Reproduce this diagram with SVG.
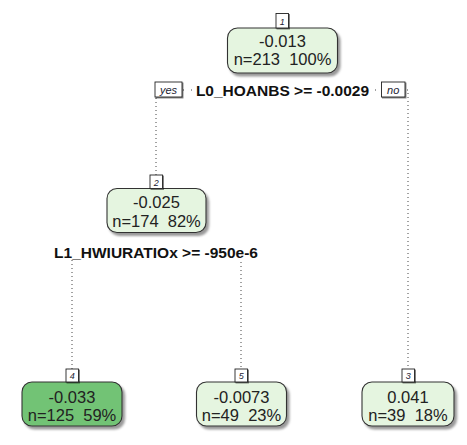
<svg xmlns="http://www.w3.org/2000/svg" width="467" height="445" viewBox="0 0 467 445">
<defs>
<filter id="sh" x="-20%" y="-20%" width="140%" height="150%">
<feDropShadow dx="2.5" dy="3" stdDeviation="1" flood-color="#000" flood-opacity="0.4"/>
</filter>
<filter id="shs" x="-30%" y="-30%" width="160%" height="160%">
<feDropShadow dx="1" dy="1" stdDeviation="0.4" flood-color="#000" flood-opacity="0.5"/>
</filter>
<style>
.box{stroke:#333;stroke-width:1.1;filter:url(#sh)}
.lt{fill:#e5f5e0}
.dk{fill:#72c375}
.val{font-family:"Liberation Sans",Arial,sans-serif;font-size:16.5px;fill:#222;text-anchor:middle;white-space:pre}
.num{fill:#fff;stroke:#222;stroke-width:0.9;filter:url(#shs)}
.numt{font-family:"Liberation Sans",Arial,sans-serif;font-size:9px;font-style:italic;fill:#223;text-anchor:middle}
.split{font-family:"Liberation Sans",Arial,sans-serif;font-size:15.5px;font-weight:bold;fill:#111;text-anchor:middle}
.yn{font-family:"Liberation Sans",Arial,sans-serif;font-size:11px;font-style:italic;fill:#223;text-anchor:middle}
.dot{fill:none;stroke:#444;stroke-width:1;stroke-dasharray:1 3}
</style>
</defs>
<rect width="467" height="445" fill="#fff"/>
<g id="connectors">
<path class="dot" d="M156,175 V90 H408 V369"/>
<path class="dot" d="M72,369 V252 H241 V369"/>
</g>
<g id="split1">
<rect x="186" y="82" width="3" height="16" fill="#fff"/>
<rect x="192" y="82" width="181" height="16" fill="#fff"/>
<rect x="377" y="82" width="5" height="16" fill="#fff"/>
<text class="split" x="282.5" y="95.5">L0_HOANBS &gt;= -0.0029</text>
<rect class="num" x="155" y="82" width="27" height="15"/>
<text class="yn" x="168.5" y="93.5">yes</text>
<rect class="num" x="381.5" y="82" width="23.5" height="15"/>
<text class="yn" x="393.2" y="93.5">no</text>
</g>
<g id="split2">
<rect x="52" y="243" width="209" height="17" fill="#fff"/>
<text class="split" x="156" y="257.5">L1_HWIURATIOx &gt;= -950e-6</text>
</g>
<g id="node1">
<rect class="box lt" x="227.5" y="28" width="110" height="45" rx="10"/>
<rect class="num" x="276" y="13.5" width="12.5" height="14.5"/>
<text class="numt" x="282.3" y="24.5">1</text>
<text class="val" x="282.5" y="46.5">-0.013</text>
<text class="val" x="282.5" y="65" xml:space="preserve">n=213  100%</text>
</g>
<g id="node2">
<rect class="box lt" x="107" y="188.5" width="99" height="44" rx="10"/>
<rect class="num" x="150" y="175" width="12.5" height="13.5"/>
<text class="numt" x="156.3" y="185.5">2</text>
<text class="val" x="156.5" y="208">-0.025</text>
<text class="val" x="156.5" y="226.5" xml:space="preserve">n=174  82%</text>
</g>
<g id="node4">
<rect class="box dk" x="22" y="382" width="100" height="44" rx="10"/>
<rect class="num" x="66" y="369" width="12.5" height="13"/>
<text class="numt" x="72.3" y="379">4</text>
<text class="val" x="72" y="402.5">-0.033</text>
<text class="val" x="72" y="421" xml:space="preserve">n=125  59%</text>
</g>
<g id="node5">
<rect class="box lt" x="196.5" y="382" width="90" height="44" rx="10"/>
<rect class="num" x="235" y="369" width="12.5" height="13"/>
<text class="numt" x="241.3" y="379">5</text>
<text class="val" x="241.5" y="402.5">-0.0073</text>
<text class="val" x="241.5" y="421" xml:space="preserve">n=49  23%</text>
</g>
<g id="node3">
<rect class="box lt" x="362" y="382" width="92" height="44" rx="10"/>
<rect class="num" x="402" y="369" width="12.5" height="13"/>
<text class="numt" x="408.3" y="379">3</text>
<text class="val" x="408" y="402.5">0.041</text>
<text class="val" x="408" y="421" xml:space="preserve">n=39  18%</text>
</g>
</svg>
